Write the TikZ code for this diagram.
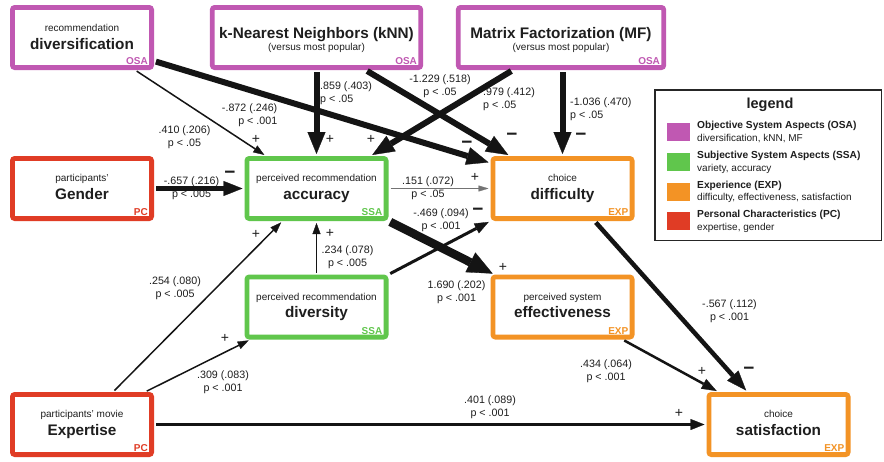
\documentclass[tikz,border=0pt]{standalone}
\usepackage{fontspec}
\setmainfont{Liberation Sans}
\usetikzlibrary{arrows.meta,shadows,calc}
\definecolor{osa}{RGB}{192,88,178}
\definecolor{ssa}{RGB}{96,198,76}
\definecolor{exp}{RGB}{243,147,37}
\definecolor{pc}{RGB}{224,60,37}
\definecolor{txt}{RGB}{30,30,30}
\begin{document}
\begin{tikzpicture}[x=1pt,y=-1pt,
  box/.style={draw, line width=4.8pt, fill=white, rounded corners=2.5pt,
    minimum width=139.2pt, minimum height=60.2pt, inner sep=0pt,
    drop shadow={shadow xshift=1.5pt,shadow yshift=-1.8pt,opacity=0.3}},
  boxcap/.style={font=\fontsize{10}{12}\selectfont, text=txt, anchor=base, inner sep=0pt},
  boxttl/.style={font=\fontsize{15.3}{18}\selectfont\bfseries, text=txt, anchor=base, inner sep=0pt},
  boxtag/.style={font=\fontsize{10}{12}\selectfont\bfseries, anchor=base east, inner sep=0pt},
  lab/.style={font=\fontsize{10.7}{13}\selectfont, align=center, text=txt, inner sep=0pt},
  labl/.style={lab, align=left, anchor=west},
  sgnplus/.style={font=\fontsize{14}{14}\selectfont, text=txt, inner sep=0pt},
  sgnminus/.style={font=\fontsize{19}{19}\selectfont\bfseries, text=txt, inner sep=0pt},
  arr/.style={draw=black!92, shorten >=2pt, shorten <=2pt},
  arrthin/.style={arr, line width=1.5pt, -{Triangle[length=11pt,width=8pt,line width=0.3pt]}},
  arrhair/.style={arr, draw=black!55, line width=1pt, -{Triangle[length=10pt,width=6pt,line width=0.3pt]}},
  arrmed/.style={arr, line width=3pt, -{Triangle[length=14pt,width=11pt,line width=0.3pt]}},
  arrmedp/.style={arr, line width=4.5pt, -{Triangle[length=20pt,width=15pt,line width=0.3pt]}},
  arrthick/.style={arr, line width=6pt, -{Triangle[length=22pt,width=18pt,line width=0.3pt]}},
  arrhuge/.style={arr, line width=8.5pt, -{Triangle[length=25pt,width=22pt,line width=0.3pt]}},
  legt/.style={font=\fontsize{10.2}{12}\selectfont\bfseries, text=txt, anchor=base west, inner sep=0pt},
  legs/.style={font=\fontsize{10}{12}\selectfont, text=txt, anchor=base west, inner sep=0pt},
  legsq/.style={minimum width=23pt, minimum height=18pt, inner sep=0pt}
]
\useasboundingbox (0,0) rectangle (884,461);
\fill[white] (0,0) rectangle (884,461);

% boxes
\node[box,draw=osa] (divf) at (82,37.5) {};
\node[box,draw=osa,minimum width=208.5pt] (knn) at (316.5,37.5) {};
\node[box,draw=osa,minimum width=205.5pt] (mf) at (561,37.5) {};
\node[box,draw=pc] (gend) at (82,188.5) {};
\node[box,draw=ssa] (acc) at (316.5,188.5) {};
\node[box,draw=exp] (diff) at (562.5,188.5) {};
\node[box,draw=ssa] (dive) at (316.5,307) {};
\node[box,draw=exp] (eff) at (562.5,307) {};
\node[box,draw=pc] (expt) at (82,424.5) {};
\node[box,draw=exp] (sat) at (778.5,424.5) {};

% box texts
\node[boxcap] (divf-c) at ([yshift=6pt]divf.center) {recommendation};
\node[boxttl] (divf-t) at ([yshift=-11.5pt]divf.center) {diversification};
\node[boxtag,text=osa] (divf-g) at ([xshift=-6pt,yshift=5.5pt]divf.south east) {OSA};

\node[boxttl] (knn-t) at ([yshift=-0.5pt]knn.center) {k-Nearest Neighbors (kNN)};
\node[boxcap] (knn-c) at ([yshift=-13pt]knn.center) {(versus most popular)};
\node[boxtag,text=osa] (knn-g) at ([xshift=-6pt,yshift=5.5pt]knn.south east) {OSA};

\node[boxttl] (mf-t) at ([yshift=-0.5pt]mf.center) {Matrix Factorization (MF)};
\node[boxcap] (mf-c) at ([yshift=-13pt]mf.center) {(versus most popular)};
\node[boxtag,text=osa] (mf-g) at ([xshift=-6pt,yshift=5.5pt]mf.south east) {OSA};

\node[boxcap] (gend-c) at ([yshift=7pt]gend.center) {participants'};
\node[boxttl] (gend-t) at ([yshift=-10.5pt]gend.center) {Gender};
\node[boxtag,text=pc] (gend-g) at ([xshift=-6pt,yshift=5.5pt]gend.south east) {PC};

\node[boxcap] (acc-c) at ([yshift=7pt]acc.center) {perceived recommendation};
\node[boxttl] (acc-t) at ([yshift=-10.5pt]acc.center) {accuracy};
\node[boxtag,text=ssa] (acc-g) at ([xshift=-6pt,yshift=5.5pt]acc.south east) {SSA};

\node[boxcap] (diff-c) at ([yshift=7pt]diff.center) {choice};
\node[boxttl] (diff-t) at ([yshift=-10.5pt]diff.center) {difficulty};
\node[boxtag,text=exp] (diff-g) at ([xshift=-6pt,yshift=5.5pt]diff.south east) {EXP};

\node[boxcap] (dive-c) at ([yshift=7pt]dive.center) {perceived recommendation};
\node[boxttl] (dive-t) at ([yshift=-10.5pt]dive.center) {diversity};
\node[boxtag,text=ssa] (dive-g) at ([xshift=-6pt,yshift=5.5pt]dive.south east) {SSA};

\node[boxcap] (eff-c) at ([yshift=7pt]eff.center) {perceived system};
\node[boxttl] (eff-t) at ([yshift=-10.5pt]eff.center) {effectiveness};
\node[boxtag,text=exp] (eff-g) at ([xshift=-6pt,yshift=5.5pt]eff.south east) {EXP};

\node[boxcap] (expt-c) at ([yshift=7pt]expt.center) {participants' movie};
\node[boxttl] (expt-t) at ([yshift=-10.5pt]expt.center) {Expertise};
\node[boxtag,text=pc] (expt-g) at ([xshift=-6pt,yshift=5.5pt]expt.south east) {PC};

\node[boxcap] (sat-c) at ([yshift=7pt]sat.center) {choice};
\node[boxttl] (sat-t) at ([yshift=-10.5pt]sat.center) {satisfaction};
\node[boxtag,text=exp] (sat-g) at ([xshift=-6pt,yshift=5.5pt]sat.south east) {EXP};

% connectors
\draw[arrthin] ([xshift=53pt]divf.south) -- ([xshift=-50.5pt]acc.north);
\draw[arrthick] ([yshift=-23.5pt]divf.east) -- ([yshift=25.5pt]diff.west);
\draw[arrthick] (knn.south) -- (acc.north);
\draw[arrthick] ([xshift=49pt]knn.south) -- ([xshift=-52.5pt]diff.north);
\draw[arrthick] ([xshift=-48pt]mf.south) -- ([xshift=54pt]acc.north);
\draw[arrthick] (mf.south -| diff.north) -- (diff.north);
\draw[arr, line width=5pt, -{Triangle[length=19pt,width=15pt,line width=0.3pt]}] (gend.east) -- (acc.west);
\draw[arrhair] (acc.east) -- (diff.west);
\draw[arrmed] (dive.north east) -- (diff.south west);
\draw[arrhuge] (acc.south east) -- ([xshift=4pt]eff.north west);
\draw[arrthin] (dive.north) -- (acc.south);
\draw[arrthin] ([xshift=31pt]expt.north) -- ([xshift=-34pt]acc.south);
\draw[arrthin] ([xshift=63pt]expt.north) -- ([xshift=-66pt]dive.south);
\draw[arrmed] (expt.east) -- (sat.west);
\draw[arr, line width=2.5pt, -{Triangle[length=15pt,width=11pt,line width=0.3pt]}] ([xshift=60pt]eff.south) -- ([xshift=-60pt]sat.north);
\draw[arrmedp] ([xshift=32pt]diff.south) -- ([xshift=-31pt]sat.north);

% connector labels
\node[lab] (l1) at (184.5,137) {.410 (.206)\\p < .05};
\node[lab, align=right, anchor=east] (l2) at (277.5,115) {-.872 (.246)\\p < .001};
\node[labl] (l3) at (320,93) {.859 (.403)\\p < .05};
\node[lab] (l4) at (440,86) {-1.229 (.518)\\p < .05};
\node[labl] (l5) at (483,99.5) {.979 (.412)\\p < .05};
\node[labl] (l6) at (570,109.5) {-1.036 (.470)\\p < .05};
\node[lab] (l7) at (191.5,188.5) {-.657 (.216)\\p < .005};
\node[lab] (l8) at (428,188) {.151 (.072)\\p < .05};
\node[lab] (l9) at (441,220) {-.469 (.094)\\p < .001};
\node[lab] (l10) at (347.5,257.5) {.234 (.078)\\p < .005};
\node[lab] (l11) at (456.5,292) {1.690 (.202)\\p < .001};
\node[lab] (l12) at (175,288) {.254 (.080)\\p < .005};
\node[lab] (l13) at (223,382) {.309 (.083)\\p < .001};
\node[lab] (l14) at (490,407) {.401 (.089)\\p < .001};
\node[lab] (l15) at (606,371) {.434 (.064)\\p < .001};
\node[lab] (l16) at (729.5,311.5) {-.567 (.112)\\p < .001};

% signs
\node[sgnplus] (s1) at (256,139) {+};
\node[sgnplus] (s2) at (330,139) {+};
\node[sgnplus] (s3) at (371,139) {+};
\node[sgnminus] (s4) at (230,175) {−};
\node[sgnminus] (s5) at (467,145) {−};
\node[sgnminus] (s6) at (512,137) {−};
\node[sgnminus] (s7) at (581,137) {−};
\node[sgnplus] (s8) at (475,177) {+};
\node[sgnminus] (s9) at (478,212) {−};
\node[sgnplus] (s10) at (503,267) {+};
\node[sgnplus] (s11) at (330,233) {+};
\node[sgnplus] (s12) at (256,234) {+};
\node[sgnplus] (s13) at (225,338) {+};
\node[sgnplus] (s14) at (679,413) {+};
\node[sgnplus] (s15) at (702,371) {+};
\node[sgnminus] (s16) at (749,371) {−};

% legend
\node[draw=black!85, line width=1.5pt, fill=white, minimum width=226.5pt, minimum height=150.5pt, inner sep=0pt] (leg) at (768,165) {};
\node[font=\fontsize{14.5}{16}\selectfont\bfseries, text=txt, anchor=base, inner sep=0pt] (leg-h) at (770,108) {legend};
\node[legsq,fill=osa] (sq1) at (678.5,132) {};
\node[legsq,fill=ssa] (sq2) at (678.5,162) {};
\node[legsq,fill=exp] (sq3) at (678.5,192) {};
\node[legsq,fill=pc] (sq4) at (678.5,221) {};
\node[legt] (lt1) at (697,128) {Objective System Aspects (OSA)};
\node[legs] (ls1) at (697,141) {diversification, kNN, MF};
\node[legt] (lt2) at (697,158) {Subjective System Aspects (SSA)};
\node[legs] (ls2) at (697,171) {variety, accuracy};
\node[legt] (lt3) at (697,188) {Experience (EXP)};
\node[legs] (ls3) at (697,200.5) {difficulty, effectiveness, satisfaction};
\node[legt] (lt4) at (697,217.5) {Personal Characteristics (PC)};
\node[legs] (ls4) at (697,230) {expertise, gender};
\end{tikzpicture}
\end{document}
